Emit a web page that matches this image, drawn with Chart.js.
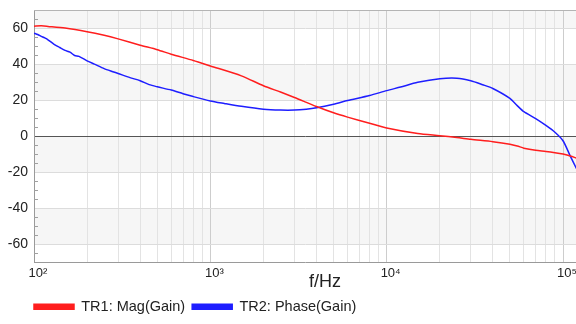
<!DOCTYPE html>
<html>
<head>
<meta charset="utf-8">
<title>Gain</title>
<script src="https://cdn.jsdelivr.net/npm/chart.js@4.4.1/dist/chart.umd.min.js"></script>
<style>
    html, body { margin: 0; padding: 0; background: #fff; }
    #wrap { width: 576px; height: 324px; }
</style>
</head>
<body>
<div id="wrap"><canvas id="gain_chart" width="576" height="324"></canvas></div>
<script>
// sweep points, Hz
FreqMag = [100, 110, 120, 150, 200, 250, 300, 400, 500, 600, 800, 1000, 1500, 2000, 2500, 3000, 4000, 5000, 6000, 8000,
    10000, 15000, 20000, 25000, 30000, 40000, 50000, 55000, 60000, 70000, 80000, 90000, 100000, 110000, 120000];
// TR1 magnitude, dB
Mag = [61, 61.2, 60.9, 60, 58, 56, 54, 50.5, 48, 45.5, 42, 39, 33.5, 28, 24.5, 21.5, 16.5, 13, 10.6, 7.2,
    4.6, 1.5, 0.3, -0.7, -1.7, -3, -4.4, -5.4, -6.6, -7.8, -8.4, -9.1, -9.9, -11, -12.2];

FreqPhase = [100, 105, 110, 115, 120, 130, 140, 150, 160, 170, 180, 200, 220, 250, 280, 300, 350, 400, 450, 500,
    600, 700, 800, 1000, 1200, 1500, 2000, 2500, 3000, 3500, 4000, 5000, 6000, 8000, 10000, 12000, 15000, 20000,
    25000, 30000, 35000, 40000, 50000, 55000, 60000, 70000, 80000, 90000, 100000, 110000, 120000];
// TR2 phase, deg
Phase = [57.2, 56.4, 55.4, 54.5, 53.5, 51.0, 49.2, 47.6, 46.6, 44.8, 44.3, 41.8, 40.0, 37.5, 35.8, 34.8, 32.5, 30.8, 28.6, 27.4,
    25.6, 23.6, 22.0, 19.6, 18.2, 16.6, 15.0, 14.5, 14.5, 15.0, 15.8, 17.8, 19.8, 22.6, 25.3, 27.3, 29.9, 31.9,
    32.2, 30.8, 28.6, 26.5, 21.0, 17.0, 13.6, 9.8, 6.0, 2.2, -2.5, -11, -18.5];

YTicks = [-60, -40, -20, 0, 20, 40, 60];
XDecades = [100, 1000, 10000, 100000];
XLabels = ['10\u00B2', '10\u00B3', '10\u2074', '10\u2075'];

var Plot = {
    left: 34,
    xMin: 100,
    xMax: 118500,
    yMin: -70,
    yMax: 70
};

// grey bands every other 20 dB, drawn under the grid
var bandPlugin = {
    id: 'bands',
    beforeDraw: function (chart) {
        var ctx = chart.ctx, area = chart.chartArea, y = chart.scales.y;
        ctx.save();
        ctx.fillStyle = '#f6f6f6';
        for (var v = -60; v < Plot.yMax; v += 40) {
            var top = y.getPixelForValue(Math.min(v + 20, Plot.yMax));
            var bot = y.getPixelForValue(v);
            ctx.fillRect(area.left, top, area.right - area.left, bot - top);
        }
        ctx.restore();
    }
};

// top border, small y ticks every 5, axis title
var axisPlugin = {
    id: 'axisExtras',
    afterLayout: function (chart) {
        // legend starts under the plot's left edge
        chart.legend.left = chart.chartArea.left - 7;
    },
    afterDraw: function (chart) {
        var ctx = chart.ctx, area = chart.chartArea, y = chart.scales.y;
        ctx.save();
        ctx.strokeStyle = '#b4b4b4';
        ctx.lineWidth = 1;
        ctx.beginPath();
        ctx.moveTo(area.left, area.top + 0.5);
        ctx.lineTo(area.right, area.top + 0.5);
        ctx.stroke();

        ctx.strokeStyle = '#a0a0a0';
        ctx.beginPath();
        for (var v = Plot.yMin + 5; v < Plot.yMax; v += 5) {
            if (v % 20 == 0) continue;
            var py = Math.round(y.getPixelForValue(v)) + 0.5;
            ctx.moveTo(area.left, py);
            ctx.lineTo(area.left + 4, py);
        }
        ctx.stroke();

        ctx.fillStyle = '#222';
        ctx.font = "18px 'Liberation Sans', Arial, sans-serif";
        ctx.textAlign = 'center';
        ctx.textBaseline = 'middle';
        ctx.fillText('f/Hz', (area.left + area.right) / 2 + 20, area.bottom + 20);
        ctx.restore();
    }
};

var Form = {
    Init: function () {
        Chart.defaults.font.family = "'Liberation Sans', Arial, sans-serif";
        Chart.defaults.color = '#222';
        new Chart(document.getElementById("gain_chart").getContext("2d"), Form.DisplayChart());
    },
    Points: function (freq, values) {
        var pts = [];
        for (var i = 0; i < freq.length; ++i) {
            pts.push({ x: freq[i], y: values[i] });
        }
        return pts;
    },
    DisplayChart: function () {
        var config = null;

        config = {
            type: 'line',
            data: {
                datasets: [{
                    label: "TR1: Mag(Gain)",
                    data: Form.Points(FreqMag, Mag),
                    borderColor: '#ff1e1e',
                    backgroundColor: '#ff1e1e',
                    borderWidth: 1.5,
                    pointRadius: 0,
                    tension: 0.25
                }, {
                    label: "TR2: Phase(Gain)",
                    data: Form.Points(FreqPhase, Phase),
                    borderColor: '#1e1eff',
                    backgroundColor: '#1e1eff',
                    borderWidth: 1.5,
                    pointRadius: 0,
                    tension: 0.25
                }]
            },
            options: {
                responsive: false,
                animation: false,
                devicePixelRatio: 1,
                layout: {
                    padding: { top: 10, right: 0, bottom: 0, left: 0 }
                },
                plugins: {
                    tooltip: { enabled: false },
                    legend: {
                        display: true,
                        position: 'bottom',
                        align: 'start',
                        labels: {
                            boxWidth: 40,
                            boxHeight: 5,
                            padding: 7,
                            color: '#222',
                            font: { size: 14.5 }
                        }
                    }
                },
                scales: {
                    x: {
                        type: 'logarithmic',
                        min: Plot.xMin,
                        max: Plot.xMax,
                        afterBuildTicks: function (scale) {
                            var ticks = [];
                            for (var d = 0; d < XDecades.length; ++d) {
                                for (var m = 1; m < 10; ++m) {
                                    var v = XDecades[d] * m;
                                    if (v <= Plot.xMax) ticks.push({ value: v });
                                }
                            }
                            scale.ticks = ticks;
                        },
                        afterFit: function (scale) {
                            scale.height = 30;
                        },
                        ticks: {
                            autoSkip: false,
                            maxRotation: 0,
                            padding: 3,
                            labelOffset: 4,
                            color: '#222',
                            font: { size: 13 },
                            callback: function (value) {
                                var i = XDecades.indexOf(value);
                                return i < 0 ? '' : XLabels[i];
                            }
                        },
                        grid: {
                            drawTicks: false,
                            color: function (ctx) {
                                return XDecades.indexOf(ctx.tick.value) < 0 ? '#e3e3e3' : '#cdcdcd';
                            }
                        },
                        border: { color: '#9a9a9a' }
                    },
                    y: {
                        type: 'linear',
                        min: Plot.yMin,
                        max: Plot.yMax,
                        afterBuildTicks: function (scale) {
                            scale.ticks = YTicks.map(function (v) { return { value: v }; });
                        },
                        afterFit: function (scale) {
                            scale.width = Plot.left;
                            // end labels sit well inside the range, no extra room needed
                            scale.paddingTop = 0;
                            scale.paddingBottom = 0;
                        },
                        ticks: {
                            padding: 6,
                            color: '#222',
                            font: { size: 14 }
                        },
                        grid: {
                            drawTicks: false,
                            color: function (ctx) {
                                return ctx.tick.value == 0 ? '#555' : '#dcdcdc';
                            }
                        },
                        border: { color: '#9a9a9a' }
                    }
                }
            },
            plugins: [bandPlugin, axisPlugin]
        };

        return config;
    }
};

Form.Init();
</script>
</body>
</html>
